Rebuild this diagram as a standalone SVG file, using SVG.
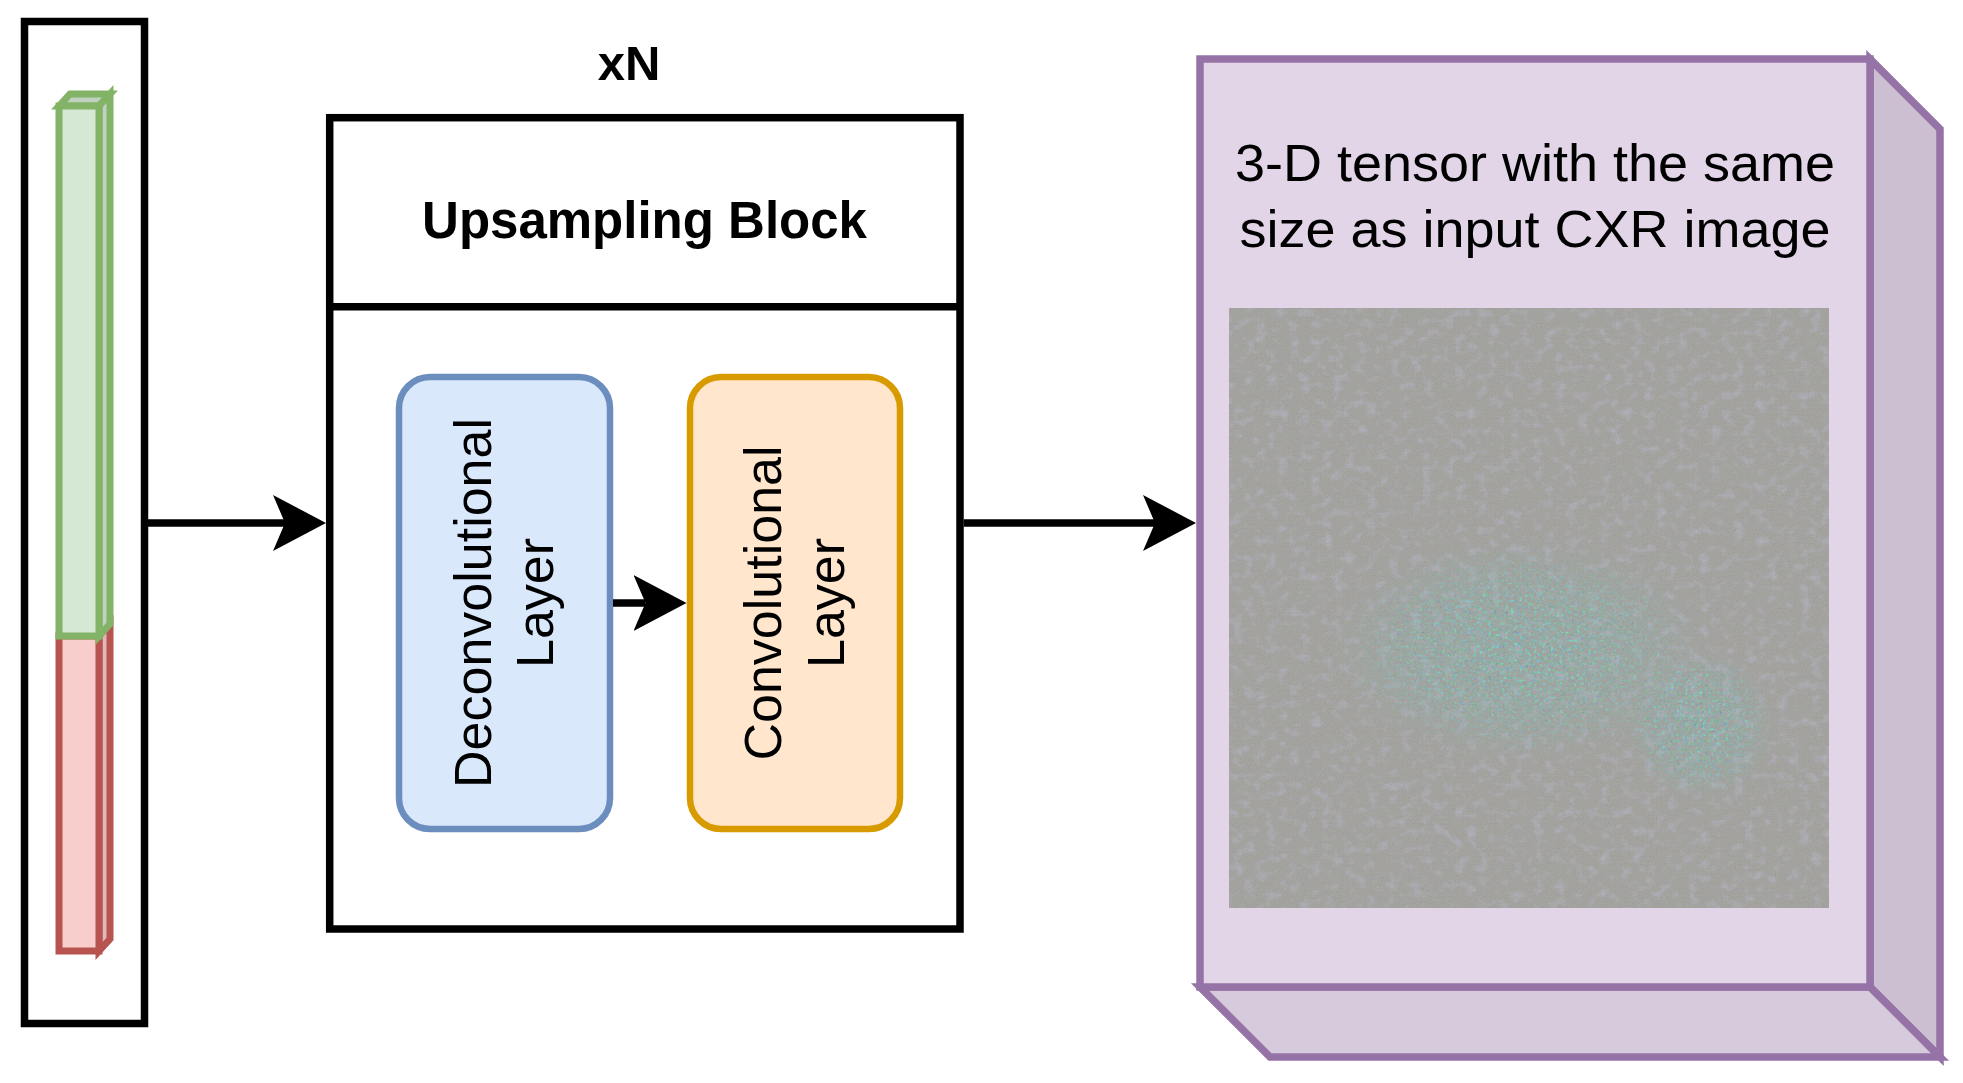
<svg xmlns="http://www.w3.org/2000/svg" width="1963" height="1083" viewBox="0 0 1963 1083">
<style>
  .frame { fill: #ffffff; stroke: #000000; stroke-width: 7.5; }
  .conn { fill: none; stroke: #000000; stroke-width: 7.5; }
  .lbl { font-family: "Liberation Sans", Arial, sans-serif; fill: #000000; }
  .bold { font-weight: bold; }
  .green { fill: #d5e8d4; stroke: #82b366; stroke-width: 7; stroke-linejoin: miter; }
  .green-side { fill: #c0d1bf; stroke: #82b366; stroke-width: 7; }
  .red { fill: #f8cecc; stroke: #b85450; stroke-width: 7; }
  .red-side { fill: #dfb9b7; stroke: #b85450; stroke-width: 7; }
  .purple { fill: #e1d5e7; stroke: #9673a6; stroke-width: 7.5; }
</style>
<defs>
  <marker id="arrow" markerUnits="userSpaceOnUse" markerWidth="54" markerHeight="57" viewBox="0 0 54 57" refX="12" refY="28" orient="auto">
    <path d="M0 0 L53 28 L0 56 L12 28 Z" fill="#000000"/>
  </marker>
  <filter id="fineNoise" x="0" y="0" width="1" height="1">
    <feTurbulence type="fractalNoise" baseFrequency="0.85" numOctaves="1" seed="4" result="n"/>
    <feColorMatrix in="n" type="matrix" values="0.7 0 0 0 0.15  0 0.7 0 0 0.18  0 0 0.7 0 0.2  0 0 0 0 0.3"/>
  </filter>
  <filter id="purpleBlot" x="0" y="0" width="1" height="1">
    <feTurbulence type="fractalNoise" baseFrequency="0.09 0.11" numOctaves="2" seed="9" result="n"/>
    <feColorMatrix in="n" type="matrix" values="0 0 0 0 0.48  0 0 0 0 0.45  0 0 0 0 0.62  1.6 0 0 0 -0.8"/>
  </filter>
  <filter id="greenBlot" x="0" y="0" width="1" height="1">
    <feTurbulence type="fractalNoise" baseFrequency="0.35" numOctaves="2" seed="17" result="n"/>
    <feColorMatrix in="n" type="matrix" values="0 0 0 0 0.18  0 0.9 0 0 0.08  0 0 1.0 0 -0.02  0 0 0 3.6 -1.5" result="c"/>
    <feComposite in="c" in2="SourceGraphic" operator="in"/>
  </filter>
  <pattern id="mesh" width="4.6" height="4.6" patternUnits="userSpaceOnUse">
    <path d="M0 0 H4.6 M0 0 V4.6" stroke="#8fa596" stroke-width="0.8" stroke-opacity="0.35" fill="none"/>
  </pattern>
  <radialGradient id="centerMask" cx="0.5" cy="0.5" r="0.5">
    <stop offset="0" stop-color="#fff" stop-opacity="1"/>
    <stop offset="0.6" stop-color="#fff" stop-opacity="0.6"/>
    <stop offset="1" stop-color="#fff" stop-opacity="0"/>
  </radialGradient>
</defs>

<g id="latent-vector">
  <rect class="frame" x="24.5" y="21.5" width="120" height="1002"/>
  <g id="red-part">
    <polygon class="red-side" points="99,636 110,624 110,939 99,951"/>
    <rect class="red" x="59" y="636" width="40" height="315"/>
  </g>
  <g id="green-part">
    <polygon class="green-side" points="59,106 70,94 110,94 99,106"/>
    <polygon class="green-side" points="99,106 110,94 110,624 99,636"/>
    <rect class="green" x="59" y="106" width="40" height="530"/>
  </g>
</g>

<g id="repeat-label">
  <text class="lbl bold" x="629" y="80" font-size="49" text-anchor="middle">xN</text>
</g>

<g id="upsampling-block">
  <rect class="frame" x="329.7" y="117.7" width="630.3" height="811.3"/>
  <line x1="329.7" y1="306.7" x2="960" y2="306.7" stroke="#000" stroke-width="7.5"/>
  <text class="lbl bold" x="644.5" y="238" font-size="51" text-anchor="middle">Upsampling Block</text>
</g>

<g id="deconv-layer">
  <rect x="399" y="377" width="211" height="452" rx="31" ry="31" fill="#dae8fc" stroke="#6c8ebf" stroke-width="6.5"/>
  <text class="lbl" font-size="52" text-anchor="middle" transform="translate(491,603) rotate(-90)">Deconvolutional</text>
  <text class="lbl" font-size="52" text-anchor="middle" transform="translate(553,603) rotate(-90)">Layer</text>
</g>

<g id="conv-layer">
  <rect x="690" y="377" width="210" height="452" rx="31" ry="31" fill="#ffe6cc" stroke="#d79b00" stroke-width="6.5"/>
  <text class="lbl" font-size="52" text-anchor="middle" transform="translate(781,603) rotate(-90)">Convolutional</text>
  <text class="lbl" font-size="52" text-anchor="middle" transform="translate(844,603) rotate(-90)">Layer</text>
</g>

<g id="output-tensor">
  <polygon class="purple" points="1870,59 1940,129 1940,1057 1870,987" style="fill:#cbbfd1"/>
  <polygon class="purple" points="1200,987 1270,1057 1940,1057 1870,987" style="fill:#d6cadd"/>
  <rect class="purple" x="1200" y="59" width="670" height="928"/>
  <text class="lbl" x="1535" y="181" font-size="52" text-anchor="middle" textLength="600" lengthAdjust="spacingAndGlyphs">3-D tensor with the same</text>
  <text class="lbl" x="1535" y="247" font-size="52" text-anchor="middle" textLength="591" lengthAdjust="spacingAndGlyphs">size as input CXR image</text>
  <g id="generated-image">
    <rect x="1229" y="308" width="600" height="600" fill="#9a958f"/>
    <rect x="1229" y="308" width="600" height="600" filter="url(#purpleBlot)"/>
    <rect x="1229" y="308" width="600" height="600" filter="url(#fineNoise)"/>
    <ellipse cx="1520" cy="650" rx="185" ry="110" fill="url(#centerMask)" filter="url(#greenBlot)"/>
    <ellipse cx="1700" cy="725" rx="75" ry="75" fill="url(#centerMask)" filter="url(#greenBlot)"/>
    <rect x="1229" y="308" width="600" height="600" fill="url(#mesh)"/>
  </g>
</g>

<g id="connectors">
  <line class="conn" x1="148" y1="523" x2="285" y2="523" marker-end="url(#arrow)"/>
  <line class="conn" x1="613" y1="603" x2="645.5" y2="603" marker-end="url(#arrow)"/>
  <line class="conn" x1="963.7" y1="523" x2="1155" y2="523" marker-end="url(#arrow)"/>
</g>
</svg>
